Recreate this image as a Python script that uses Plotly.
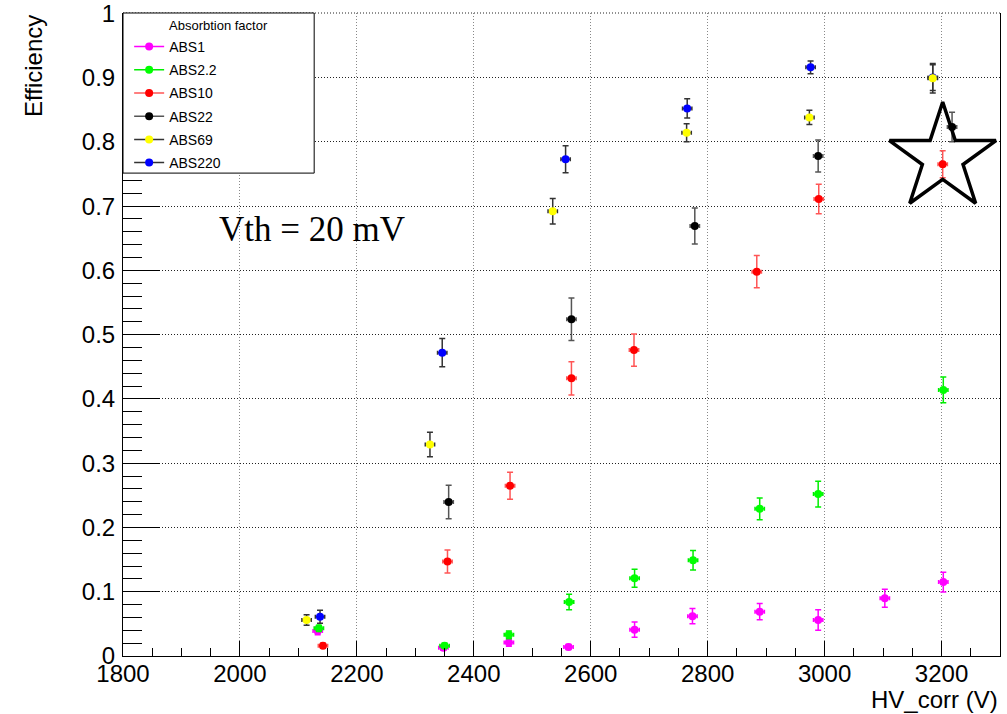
import plotly.graph_objects as go

# Efficiency vs corrected HV for each absorption factor
names = ["ABS1", "ABS2.2", "ABS10", "ABS22", "ABS69", "ABS220"]

hv_abs1 = [2133, 2348, 2460, 2562, 2675, 2774, 2889, 2989, 3103, 3203]
eff_abs1 = [0.039, 0.013, 0.021, 0.014, 0.041, 0.062, 0.069, 0.056, 0.090, 0.115]
err_abs1 = [0.006, 0.004, 0.006, 0.004, 0.012, 0.012, 0.0125, 0.016, 0.014, 0.0155]

hv_abs2 = [2135, 2350, 2460, 2563, 2675, 2775, 2889, 2989, 3203]
eff_abs2 = [0.043, 0.016, 0.033, 0.084, 0.121, 0.149, 0.229, 0.252, 0.414]
err_abs2 = [0.005, 0.004, 0.006, 0.012, 0.014, 0.015, 0.017, 0.020, 0.020]

hv_abs10 = [2142, 2355, 2462, 2567, 2674, 2884, 2990, 3202]
eff_abs10 = [0.016, 0.147, 0.265, 0.432, 0.476, 0.598, 0.711, 0.765]
err_abs10 = [0.004, 0.018, 0.021, 0.026, 0.025, 0.025, 0.023, 0.021]

hv_abs22 = [2357, 2567, 2778, 2989, 3218]
eff_abs22 = [0.2395, 0.524, 0.669, 0.778, 0.823]
err_abs22 = [0.026, 0.033, 0.028, 0.025, 0.023]

hv_abs69 = [2114, 2325, 2535, 2764, 2974, 3185]
eff_abs69 = [0.056, 0.329, 0.692, 0.814, 0.838, 0.899]
err_abs69 = [0.008, 0.019, 0.020, 0.014, 0.011, 0.023]

hv_abs220 = [2137, 2346, 2557, 2765, 2976, 3185]
eff_abs220 = [0.061, 0.472, 0.773, 0.852, 0.916, 0.900]
err_abs220 = [0.010, 0.022, 0.021, 0.015, 0.010, 0.020]

hv_err = 8  # horizontal uncertainty (V)

# highlighted working point
star_hv = [3202]
star_eff = [0.775]

y_ticks = [0, 0.1, 0.2, 0.3, 0.4, 0.5, 0.6, 0.7, 0.8, 0.9, 1.0]
y_ticktext = ["0", "0.1", "0.2", "0.3", "0.4", "0.5", "0.6", "0.7", "0.8", "0.9", "1"]

marker_colors = ["#ff00ff", "#00ff00", "#ff0000", "#000000", "#ffff00", "#0000ff"]
bar_colors = ["#ff00ff", "#00ee00", "#ff5555", "#555555", "#333333", "#333333"]

series = [
    (hv_abs1, eff_abs1, err_abs1),
    (hv_abs2, eff_abs2, err_abs2),
    (hv_abs10, eff_abs10, err_abs10),
    (hv_abs22, eff_abs22, err_abs22),
    (hv_abs69, eff_abs69, err_abs69),
    (hv_abs220, eff_abs220, err_abs220),
]

fig = go.Figure()

# draw order: ABS220 goes under ABS69
draw_order = [0, 1, 2, 3, 5, 4]
for i in draw_order:
    hv, eff, err = series[i]
    fig.add_trace(go.Scatter(
        x=hv, y=eff, mode="markers", name=names[i], showlegend=False,
        marker=dict(color=marker_colors[i], size=8, line=dict(width=0)),
        error_y=dict(type="data", array=err, color=bar_colors[i], thickness=1.5, width=3),
        error_x=dict(type="constant", value=hv_err, color=bar_colors[i], thickness=1.5, width=2),
    ))

# legend entries (line + marker)
for i in range(6):
    fig.add_trace(go.Scatter(
        x=[None], y=[None], mode="lines+markers", name=names[i],
        legendgroup=names[i],
        marker=dict(color=marker_colors[i], size=8),
        line=dict(color=bar_colors[i], width=1.5),
    ))

fig.add_trace(go.Scatter(
    x=star_hv, y=star_eff, mode="markers", showlegend=False, name="highlight",
    marker=dict(symbol="star-open", size=80, color="black", line=dict(color="black", width=3.5)),
))

# top grid line at efficiency = 1
fig.add_shape(type="line", xref="paper", yref="paper", x0=0, x1=1, y0=1.0, y1=1.0,
              line=dict(color="#222222", width=1, dash="1px,2px"), layer="below")
# legend frame
fig.add_shape(type="rect", xref="paper", yref="paper", x0=0, x1=0.218, y0=0.751, y1=1.0,
              fillcolor="white", line=dict(color="black", width=1), layer="above")

fig.add_annotation(text="Absorbtion factor", xref="paper", yref="paper", x=0.109, y=0.981,
                   xanchor="center", yanchor="middle", showarrow=False,
                   font=dict(family="Liberation Sans", size=13, color="black"))
fig.add_annotation(text="Vth = 20 mV", xref="paper", yref="paper", x=0.107, y=0.664,
                   xanchor="left", yanchor="middle", showarrow=False,
                   font=dict(family="Liberation Serif", size=35, color="black"))
fig.add_annotation(text="Efficiency", xref="paper", yref="paper", x=-0.1026, y=1.0,
                   xanchor="center", yanchor="top", textangle=-90, showarrow=False,
                   font=dict(family="Liberation Sans", size=24, color="black"))
fig.add_annotation(text="HV_corr (V)", xref="paper", yref="paper", x=1.0, y=-0.043,
                   xanchor="right", yanchor="top", showarrow=False,
                   font=dict(family="Liberation Sans", size=24, color="black"))

fig.update_layout(
    width=1007, height=714,
    margin=dict(l=123, r=7, t=13, b=58),
    paper_bgcolor="white", plot_bgcolor="white",
    font=dict(family="Liberation Sans", size=24, color="black"),
    legend=dict(
        x=0.007, y=0.972, xanchor="left", yanchor="top",
        bgcolor="rgba(0,0,0,0)", borderwidth=0,
        font=dict(family="Liberation Sans", size=14, color="black"),
        tracegroupgap=2,
    ),
)

fig.update_xaxes(
    range=[1800, 3300], dtick=200, tick0=1800,
    showline=True, linecolor="black", linewidth=1, mirror=False,
    ticks="inside", ticklen=15, tickcolor="black",
    showgrid=True, gridcolor="#888888", griddash="1px,2px", gridwidth=1,
    minor=dict(dtick=50, ticks="inside", ticklen=8, tickcolor="black", showgrid=False),
    zeroline=False, ticklabelstandoff=-4, automargin=False,
)
fig.update_yaxes(
    range=[0, 1.0005], tickvals=y_ticks, ticktext=y_ticktext,
    showline=True, linecolor="black", linewidth=1, mirror=True,
    ticks="inside", ticklen=37, tickcolor="black",
    showgrid=True, gridcolor="#222222", griddash="1px,2px", gridwidth=1,
    minor=dict(dtick=0.02, ticks="inside", ticklen=19, tickcolor="black", showgrid=False),
    zeroline=False, ticklabelstandoff=2, ticklabeloverflow="allow", automargin=False,
)

fig.write_html("out.html")
